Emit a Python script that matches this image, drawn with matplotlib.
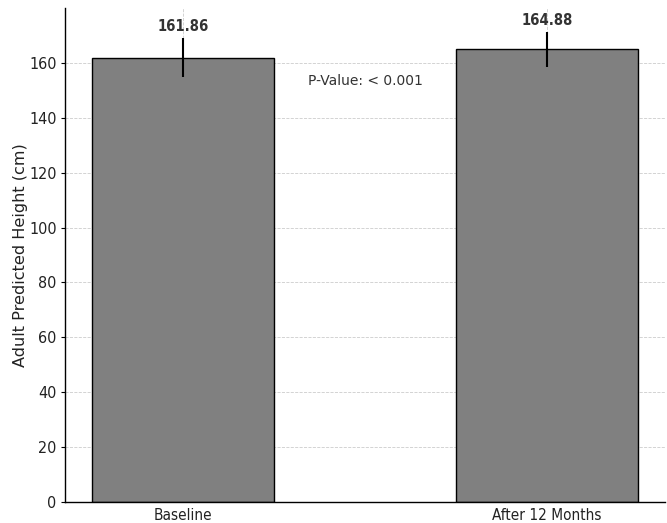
import matplotlib
matplotlib.use("Agg")
import matplotlib.pyplot as plt

# Adult predicted height before and after 12 months of treatment
groups = ["Baseline", "After 12 Months"]
mean_height = [161.86, 164.88]
height_sd = [7.0, 6.4]
p_value_text = "P-Value: < 0.001"

fig = plt.figure(figsize=(6.67, 5.23), dpi=100)
ax = fig.add_axes([0.0975, 0.040, 0.8995, 0.945])

x = range(len(groups))
ax.bar(x, mean_height, width=0.5, color="#808080", edgecolor="black",
       linewidth=1.0, yerr=height_sd, error_kw=dict(ecolor="black", elinewidth=1.5, capsize=0),
       zorder=2)

for xi, m, s in zip(x, mean_height, height_sd):
    ax.text(xi, m + s + 1.5, f"{m:.2f}", ha="center", va="bottom",
            fontsize=10.6, fontweight="bold", fontstretch="condensed", color="#333333")

ax.text(0.5, 153.5, p_value_text, ha="center", va="center", fontsize=10, color="#333333")

ax.set_xticks(list(x))
ax.set_xticklabels(groups, fontsize=11, color="#222222", fontstretch="condensed")
ax.set_ylim(0, 180)
ax.set_yticks(range(0, 161, 20))
ax.set_yticklabels([str(v) for v in range(0, 161, 20)], fontsize=11.5,
                   color="#222222", fontstretch="condensed")
ax.tick_params(axis="y", direction="out", length=3, pad=3)
ax.tick_params(axis="x", direction="in", length=3, pad=4)
ax.set_ylabel("Adult Predicted Height (cm)", fontsize=11.6, color="#222222", labelpad=0.5)

ax.grid(True, linestyle="--", linewidth=0.6, color="#cccccc", zorder=0)
ax.set_axisbelow(True)
for side in ("top", "right"):
    ax.spines[side].set_visible(False)
for side in ("left", "bottom"):
    ax.spines[side].set_linewidth(1.0)

fig.savefig("out.png", dpi=100)
